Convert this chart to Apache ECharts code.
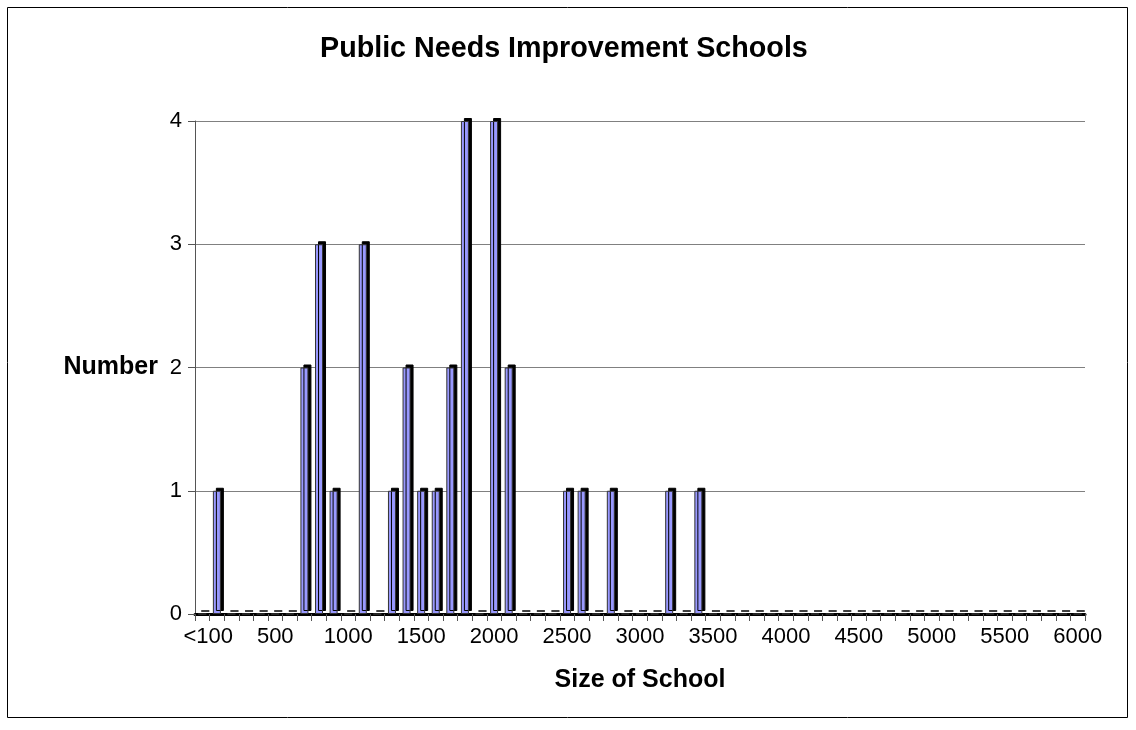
<!DOCTYPE html>
<html>
<head>
<meta charset="utf-8">
<script src="https://cdn.jsdelivr.net/npm/echarts@6/dist/echarts.min.js"></script>
<style>
  html, body { margin: 0; padding: 0; background: #ffffff; }
  #chart { width: 1136px; height: 730px; }
</style>
</head>
<body>
<div id="chart"></div>
<script>
// School size bins (students)
const sizeBins = [
  "<100", "100", "200", "300", "400", "500", "600", "700", "800", "900",
  "1000", "1100", "1200", "1300", "1400", "1500", "1600", "1700", "1800", "1900",
  "2000", "2100", "2200", "2300", "2400", "2500", "2600", "2700", "2800", "2900",
  "3000", "3100", "3200", "3300", "3400", "3500", "3600", "3700", "3800", "3900",
  "4000", "4100", "4200", "4300", "4400", "4500", "4600", "4700", "4800", "4900",
  "5000", "5100", "5200", "5300", "5400", "5500", "5600", "5700", "5800", "5900",
  "6000"
];

// Number of schools in each bin
const schoolCounts = [
  0, 1, 0, 0, 0, 0, 0, 2, 3, 1,
  0, 3, 0, 1, 2, 1, 1, 2, 4, 0,
  4, 2, 0, 0, 0, 1, 1, 0, 1, 0,
  0, 0, 1, 0, 1, 0, 0, 0, 0, 0,
  0, 0, 0, 0, 0, 0, 0, 0, 0, 0,
  0, 0, 0, 0, 0, 0, 0, 0, 0, 0,
  0
];

const countTicks = [0, 1, 2, 3, 4];

const chart = echarts.init(document.getElementById('chart'), null, { renderer: 'canvas' });
const FONT = '"Liberation Sans", Arial, sans-serif';

chart.setOption({
  animation: false,
  backgroundColor: '#ffffff',
  title: {
    text: 'Public Needs Improvement Schools',
    left: 320,
    top: 35,
    padding: 0,
    textStyle: { fontFamily: FONT, fontSize: 28.7, fontWeight: 'bold', color: '#000' }
  },
  graphic: [{
    type: 'rect',
    shape: { x: 7.5, y: 7.5, width: 1120, height: 710 },
    style: { fill: 'none', stroke: '#000', lineWidth: 1 },
    z: -1
  }],
  grid: { left: 195, right: 51, top: 121, bottom: 116, containLabel: false },
  xAxis: {
    type: 'category',
    data: sizeBins,
    boundaryGap: true,
    name: 'Size of School',
    nameLocation: 'middle',
    nameGap: 54,
    nameTextStyle: { fontFamily: FONT, fontSize: 25, fontWeight: 'bold', color: '#000', verticalAlign: 'top' },
    axisLine: { lineStyle: { color: '#000', width: 3 } },
    axisTick: { show: true, interval: 0, length: 7, lineStyle: { color: '#555', width: 1 } },
    axisLabel: {
      interval: 4,
      margin: 12,
      fontFamily: FONT,
      fontSize: 22,
      color: '#000',
      // the first bin label sits a little to the right of its slot
      formatter: (v, i) => (i === 0 ? '{first|' + v + '}' : v),
      rich: { first: { fontFamily: FONT, fontSize: 22, color: '#000', padding: [0, 0, 0, 12] } }
    },
    splitLine: { show: false }
  },
  yAxis: {
    type: 'value',
    min: countTicks[0],
    max: countTicks[countTicks.length - 1],
    interval: 1,
    name: 'Number',
    nameLocation: 'middle',
    nameRotate: 0,
    nameGap: 37,
    nameTextStyle: { fontFamily: FONT, fontSize: 25, fontWeight: 'bold', color: '#000' },
    axisLine: { show: true, lineStyle: { color: '#555', width: 1 } },
    axisTick: { show: true, length: 7, lineStyle: { color: '#555' } },
    axisLabel: { margin: 13, fontFamily: FONT, fontSize: 22, color: '#000' },
    splitLine: { show: true, lineStyle: { color: '#808080', width: 1 } }
  },
  series: [{
    type: 'bar',
    data: schoolCounts,
    barWidth: 8,
    itemStyle: {
      color: '#9999ff',
      borderColor: '#333',
      borderWidth: 1,
      shadowColor: '#000',
      shadowBlur: 0,
      shadowOffsetX: 3,
      shadowOffsetY: -3
    },
    emphasis: { disabled: true }
  }]
});
</script>
</body>
</html>
